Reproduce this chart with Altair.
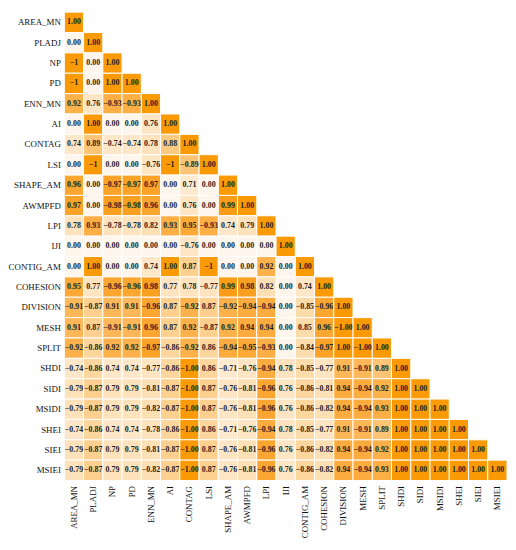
import pandas as pd
import altair as alt

# variable names (row / column order)
names = ["AREA_MN", "PLADJ", "NP", "PD", "ENN_MN", "AI", "CONTAG", "LSI",
         "SHAPE_AM", "AWMPFD", "LPI", "IJI", "CONTIG_AM", "COHESION",
         "DIVISION", "MESH", "SPLIT", "SHDI", "SIDI", "MSIDI", "SHEI",
         "SIEI", "MSIEI"]

# lower triangle, one row per variable, as printed in the cells
r_area_mn = ["1.00"]
r_pladj = ["0.00", "1.00"]
r_np = ["-1", "0.00", "1.00"]
r_pd = ["-1", "0.00", "1.00", "1.00"]
r_enn_mn = ["0.92", "0.76", "-0.93", "-0.93", "1.00"]
r_ai = ["0.00", "1.00", "0.00", "0.00", "0.76", "1.00"]
r_contag = ["0.74", "0.89", "-0.74", "-0.74", "0.78", "0.88", "1.00"]
r_lsi = ["0.00", "-1", "0.00", "0.00", "-0.76", "-1", "-0.89", "1.00"]
r_shape_am = ["0.96", "0.00", "-0.97", "-0.97", "0.97", "0.00", "0.71", "0.00", "1.00"]
r_awmpfd = ["0.97", "0.00", "-0.98", "-0.98", "0.96", "0.00", "0.76", "0.00", "0.99", "1.00"]
r_lpi = ["0.78", "0.93", "-0.78", "-0.78", "0.82", "0.93", "0.95", "-0.93", "0.74", "0.79", "1.00"]
r_iji = ["0.00", "0.00", "0.00", "0.00", "0.00", "0.00", "-0.76", "0.00", "0.00", "0.00",
         "0.00", "1.00"]
r_contig_am = ["0.00", "1.00", "0.00", "0.00", "0.74", "1.00", "0.87", "-1", "0.00", "0.00",
               "0.92", "0.00", "1.00"]
r_cohesion = ["0.95", "0.77", "-0.96", "-0.96", "0.98", "0.77", "0.78", "-0.77", "0.99", "0.98",
              "0.82", "0.00", "0.74", "1.00"]
r_division = ["-0.91", "-0.87", "0.91", "0.91", "-0.96", "0.87", "-0.92", "0.87", "-0.92", "-0.94",
              "-0.94", "0.00", "-0.85", "-0.96", "1.00"]
r_mesh = ["0.91", "0.87", "-0.91", "-0.91", "0.96", "0.87", "0.92", "-0.87", "0.92", "0.94",
          "0.94", "0.00", "0.85", "0.96", "-1.00", "1.00"]
r_split = ["-0.92", "-0.86", "0.92", "0.92", "-0.97", "-0.86", "-0.92", "0.86", "-0.94", "-0.95",
           "-0.93", "0.00", "-0.84", "-0.97", "1.00", "-1.00", "1.00"]
r_shdi = ["-0.74", "-0.86", "0.74", "0.74", "-0.77", "-0.86", "-1.00", "0.86", "-0.71", "-0.76",
          "-0.94", "0.78", "-0.85", "-0.77", "0.91", "-0.91", "0.89", "1.00"]
r_sidi = ["-0.79", "-0.87", "0.79", "0.79", "-0.81", "-0.87", "-1.00", "0.87", "-0.76", "-0.81",
          "-0.96", "0.76", "-0.86", "-0.81", "0.94", "-0.94", "0.92", "1.00", "1.00"]
r_msidi = ["-0.79", "-0.87", "0.79", "0.79", "-0.82", "-0.87", "-1.00", "0.87", "-0.76", "-0.81",
           "-0.96", "0.76", "-0.86", "-0.82", "0.94", "-0.94", "0.93", "1.00", "1.00", "1.00"]
r_shei = ["-0.74", "-0.86", "0.74", "0.74", "-0.78", "-0.86", "-1.00", "0.86", "-0.71", "-0.76",
          "-0.94", "0.78", "-0.85", "-0.77", "0.91", "-0.91", "0.89", "1.00", "1.00", "1.00", "1.00"]
r_siei = ["-0.79", "-0.87", "0.79", "0.79", "-0.81", "-0.87", "-1.00", "0.87", "-0.76", "-0.81",
          "-0.96", "0.76", "-0.86", "-0.82", "0.94", "-0.94", "0.92", "1.00", "1.00", "1.00", "1.00",
          "1.00"]
r_msiei = ["-0.79", "-0.87", "0.79", "0.79", "-0.82", "-0.87", "-1.00", "0.87", "-0.76", "-0.81",
           "-0.96", "0.76", "-0.86", "-0.82", "0.94", "-0.94", "0.93", "1.00", "1.00", "1.00", "1.00",
           "1.00", "1.00"]

rows = [r_area_mn, r_pladj, r_np, r_pd, r_enn_mn, r_ai, r_contag, r_lsi, r_shape_am,
        r_awmpfd, r_lpi, r_iji, r_contig_am, r_cohesion, r_division, r_mesh, r_split,
        r_shdi, r_sidi, r_msidi, r_shei, r_siei, r_msiei]

records = []
for i, row in enumerate(rows):
    for j, s in enumerate(row):
        v = float(s)
        records.append({"row": names[i], "col": names[j], "r": v,
                        "absr": abs(v), "label": s.replace("-", "\u2212")})
df = pd.DataFrame(records)

font = "Times New Roman"

base = alt.Chart(df).encode(
    x=alt.X("col:N", sort=names, title=None,
            axis=alt.Axis(orient="bottom", labelAngle=-90,
                          labelFontSize=9, labelColor="#111", domain=False,
                          ticks=False, labelPadding=5)),
    y=alt.Y("row:N", sort=names, title=None,
            axis=alt.Axis(labelFontSize=9, labelColor="#111",
                          domain=False, ticks=False, labelPadding=4)),
)

cells = base.mark_rect(stroke="white", strokeWidth=1).encode(
    color=alt.Color("absr:Q", legend=None,
                    scale=alt.Scale(domain=[0, 0.7, 0.85, 0.92, 1.0],
                                    range=["#fef6ec", "#feebd2", "#fddcac",
                                           "#fdb14a", "#f99a06"]))
)

labels = base.mark_text(fontSize=8, fontWeight="bold", color="#222").encode(
    text="label:N"
)

chart = (cells + labels).properties(
    width=448, height=474, padding={"left": 0, "top": 0, "right": 0, "bottom": 0}
).configure(font=font).configure_axis(labelFont=font).configure_text(font=font
).configure_view(stroke=None)

chart.save("out.html", embed_options={"renderer": "svg", "actions": False})
